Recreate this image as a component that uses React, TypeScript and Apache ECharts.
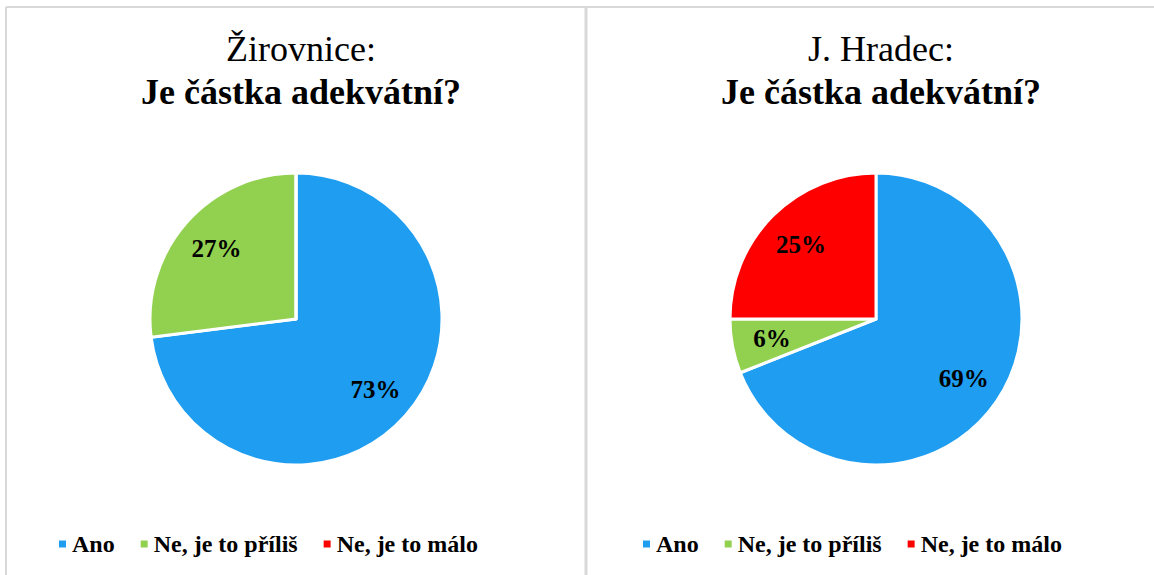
import React, { useEffect, useRef } from "react";
import * as echarts from "echarts";

const categories = ["Ano", "Ne, je to příliš", "Ne, je to málo"];
const colors = ["#1E9DF1", "#92D050", "#FF0000"];
const zirovniceValues = [73, 27, 0];
const hradecValues = [69, 6, 25];
const cityTitles = ["Žirovnice:", "J. Hradec:"];
const question = "Je částka adekvátní?";

const FONT = "Liberation Serif";

function makeData(values: number[]) {
  return categories.map((name, i) => ({
    name,
    value: values[i],
    itemStyle: { color: colors[i] },
  }));
}

export default function App() {
  const ref = useRef<HTMLDivElement>(null);
  useEffect(() => {
    if (!ref.current) return;
    const chart = echarts.init(ref.current, null, { renderer: "svg" });
    const centers = [
      [296, 319],
      [876, 319],
    ];
    const valueSets = [zirovniceValues, hradecValues];
    const series: any[] = [];
    valueSets.forEach((vals, k) => {
      series.push({
        type: "pie",
        center: centers[k],
        radius: [0, 146],
        startAngle: 90,
        clockwise: true,
        avoidLabelOverlap: false,
        label: { show: false },
        labelLine: { show: false },
        itemStyle: { borderColor: "#ffffff", borderWidth: 3 },
        emphasis: { disabled: true },
        data: makeData(vals),
      });
    });
    valueSets.forEach((vals, k) => {
      series.push({
        type: "pie",
        center: centers[k],
        radius: [60, 146],
        startAngle: 90,
        clockwise: true,
        silent: true,
        legendHoverLink: false,
        avoidLabelOverlap: false,
        itemStyle: { color: "rgba(0,0,0,0)", borderWidth: 0 },
        labelLine: { show: false },
        label: {
          show: true,
          position: "inside",
          formatter: (p: any) => (p.value > 0 ? p.value + "%" : ""),
          fontFamily: FONT,
          fontWeight: "bold",
          fontSize: 25,
          color: "#000000",
        },
        emphasis: { disabled: true },
        data: categories.map((name, i) => ({ name, value: vals[i] })),
      });
    });
    const legendBase = {
      orient: "horizontal",
      top: 527,
      icon: "rect",
      itemWidth: 9,
      itemHeight: 9,
      itemGap: 24,
      selectedMode: false,
      data: categories,
      textStyle: {
        fontFamily: FONT,
        fontWeight: "bold",
        fontSize: 24,
        color: "#000000",
      },
    };
    chart.setOption({
      animation: false,
      backgroundColor: "#ffffff",
      title: cityTitles.map((t, k) => ({
        text: `{a|${t}}\n{b|${question}}`,
        left: centers[k][0],
        top: 22,
        textAlign: "center",
        textStyle: {
          fontFamily: FONT,
          fontWeight: "normal",
          rich: {
            a: { fontFamily: FONT, fontSize: 36, fontWeight: "normal", color: "#000", lineHeight: 44 },
            b: { fontFamily: FONT, fontSize: 36, fontWeight: "bold", color: "#000", lineHeight: 42 },
          },
        },
      })),
      legend: [
        { ...legendBase, left: 52 },
        { ...legendBase, left: 636 },
      ],
      graphic: [
        { type: "line", shape: { x1: 6, y1: 7, x2: 1154, y2: 7 }, style: { stroke: "#d9d9d9", lineWidth: 2 } },
        { type: "line", shape: { x1: 6, y1: 7, x2: 6, y2: 575 }, style: { stroke: "#d9d9d9", lineWidth: 2 } },
        { type: "line", shape: { x1: 586, y1: 7, x2: 586, y2: 575 }, style: { stroke: "#d9d9d9", lineWidth: 3 } },
      ],
      series,
    });
    return () => chart.dispose();
  }, []);
  return (
    <div
      ref={ref}
      style={{ position: "fixed", left: 0, top: 0, width: 1154, height: 575 }}
    />
  );
}
